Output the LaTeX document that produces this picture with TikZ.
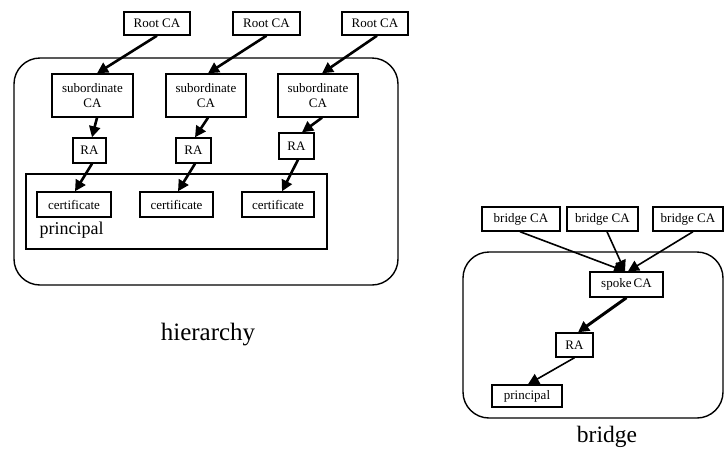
\documentclass[tikz,border=0pt]{standalone}
\usepackage{fontspec}
\setmainfont{Liberation Serif}
\usetikzlibrary{arrows.meta}
\begin{document}
\begin{tikzpicture}[x=1pt,y=-1pt,
  box/.style={draw,line width=1.4pt,inner sep=0pt,align=center,
    font=\fontsize{13}{15.5}\selectfont},
  frame/.style={draw,line width=1.4pt,rounded corners=26pt},
  link/.style={line width=2.6pt,-{Triangle[length=11pt,width=11pt]}},
  thin link/.style={line width=1.6pt,-{Triangle[length=11pt,width=11pt]}},
  caption/.style={font=\fontsize{25}{28}\selectfont}]
\useasboundingbox (0,0) rectangle (724,459);

% ---------- hierarchy ----------
\draw[frame] (14,58) rectangle (398,285);
\draw[line width=1.4pt] (26,174) rectangle (327,249);
\node[anchor=west,font=\fontsize{18}{20}\selectfont] (plab) at (36,230) {principal};

\node[box,minimum width=66pt,minimum height=23pt] (r1) at (157,23.5) {Root CA};
\node[box,minimum width=67pt,minimum height=23pt] (r2) at (266.5,23.5) {Root CA};
\node[box,minimum width=66pt,minimum height=23pt] (r3) at (375,23.5) {Root CA};

\node[box,minimum width=81pt,minimum height=43pt] (s1) at (92.5,95.5) {subordinate\\CA};
\node[box,minimum width=80pt,minimum height=43pt] (s2) at (206,95.5) {subordinate\\CA};
\node[box,minimum width=80pt,minimum height=43pt] (s3) at (318,95.5) {subordinate\\CA};

\node[box,minimum width=33pt,minimum height=25pt] (a1) at (89.5,150.5) {RA};
\node[box,minimum width=35pt,minimum height=25pt] (a2) at (193.5,150.5) {RA};
\node[box,minimum width=35pt,minimum height=26pt] (a3) at (296.5,146) {RA};

\node[box,minimum width=74pt,minimum height=25pt] (c1) at (74,204.5) {certificate};
\node[box,minimum width=73pt,minimum height=25pt] (c2) at (176.5,204.5) {certificate};
\node[box,minimum width=72pt,minimum height=25pt] (c3) at (278,204.5) {certificate};

\draw[link] (r1.south) -- ([xshift=4.5pt]s1.north);
\draw[link] (r2.south) -- ([xshift=2pt]s2.north);
\draw[link] ([xshift=2pt]r3.south) -- ([xshift=4pt]s3.north);
\draw[link] ([xshift=4.5pt]s1.south) -- ([xshift=2.5pt]a1.north);
\draw[link] ([xshift=2pt]s2.south) -- ([xshift=1.5pt]a2.north);
\draw[link] ([xshift=4pt]s3.south) -- ([xshift=5.5pt]a3.north);
\draw[link] ([xshift=2.5pt]a1.south) -- ([xshift=1pt]c1.north);
\draw[link] ([xshift=1.5pt]a2.south) -- ([xshift=1.5pt]c2.north);
\draw[link] ([xshift=1.5pt]a3.south) -- ([xshift=4pt]c3.north);

\node[caption] (hcap) at (208,335) {hierarchy};

% ---------- bridge ----------
\draw[frame] (463,252) rectangle (723,418);

\node[box,minimum width=78pt,minimum height=24pt] (b1) at (521,219) {bridge CA};
\node[box,minimum width=71pt,minimum height=24pt] (b2) at (602.5,219) {bridge CA};
\node[box,minimum width=70pt,minimum height=24pt] (b3) at (688,219) {bridge CA};

\node[box,minimum width=73pt,minimum height=25pt] (sp) at (626.5,284.5) {spoke\,CA};
\node[box,minimum width=37pt,minimum height=24pt] (ra) at (574.5,345) {RA};
\node[box,minimum width=70pt,minimum height=22pt] (pr) at (527,396) {principal};

\draw[thin link] ([xshift=-1pt]b1.south) -- ([xshift=-1.5pt]sp.north);
\draw[thin link] ([xshift=4.5pt]b2.south) -- ([xshift=-1.5pt]sp.north);
\draw[thin link] ([xshift=5pt]b3.south) -- ([xshift=1.5pt]sp.north);
\draw[link,line width=3pt] (sp.south) -- ([xshift=3.5pt]ra.north);
\draw[thin link] (ra.south) -- ([xshift=1pt]pr.north);

\node[caption,font=\fontsize{23.5}{26}\selectfont] (bcap) at (607,437) {bridge};
\end{tikzpicture}
\end{document}
